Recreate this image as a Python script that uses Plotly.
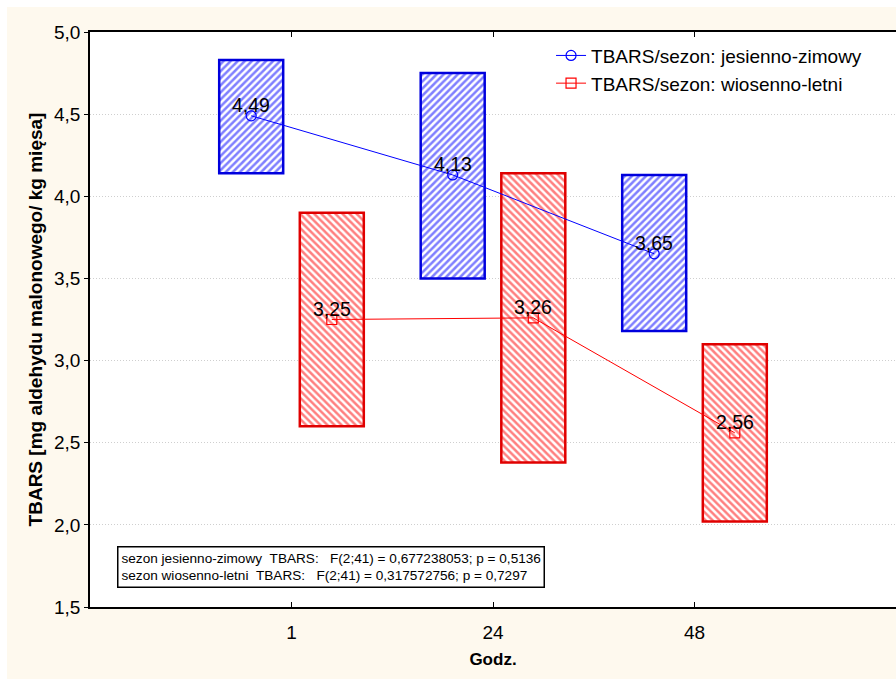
import plotly.graph_objects as go

categories = ["1", "24", "48"]
mean_jz = [4.49, 4.13, 3.65]
low_jz = [4.14, 3.50, 3.18]
high_jz = [4.83, 4.75, 4.13]
mean_wl = [3.25, 3.26, 2.56]
low_wl = [2.60, 2.38, 2.02]
high_wl = [3.90, 4.14, 3.10]
name_jz = "TBARS/sezon: jesienno-zimowy"
name_wl = "TBARS/sezon: wiosenno-letni"
stats_lines = [
    "sezon jesienno-zimowy  TBARS:   F(2;41) = 0,677238053; p = 0,5136",
    "sezon wiosenno-letni  TBARS:   F(2;41) = 0,317572756; p = 0,7297",
]
y_ticks = [1.5, 2.0, 2.5, 3.0, 3.5, 4.0, 4.5, 5.0]

BLUE = "#0000ff"
RED = "#ff0000"
OFF = 0.2
W = 0.3176
FONT = "Liberation Sans, Arial, sans-serif"

idx = list(range(len(categories)))
x_jz = [i - OFF for i in idx]
x_wl = [i + OFF for i in idx]

fig = go.Figure()
for xs, lo, hi, col, edge, shape in [
    (x_jz, low_jz, high_jz, "#0000ff", "#0000dd", "/"),
    (x_wl, low_wl, high_wl, "#ff0000", "#e00000", "\\"),
]:
    fig.add_trace(go.Bar(
        x=xs, base=lo, y=[h - l for h, l in zip(hi, lo)], width=W,
        marker=dict(color="white", line=dict(color=edge, width=2.5),
                    pattern=dict(shape=shape, fgcolor=col, bgcolor="white",
                                 size=5, solidity=0.5)),
        showlegend=False, hoverinfo="skip",
    ))

fig.add_trace(go.Scatter(
    x=x_jz, y=mean_jz, mode="lines+markers", name=name_jz,
    line=dict(color=BLUE, width=1),
    marker=dict(symbol="circle-open", size=10, color=BLUE, line=dict(width=1.2)),
))
fig.add_trace(go.Scatter(
    x=x_wl, y=mean_wl, mode="lines+markers", name=name_wl,
    line=dict(color=RED, width=1),
    marker=dict(symbol="square-open", size=10, color=RED, line=dict(width=1.2)),
))

annotations = []
for xs, ms in [(x_jz, mean_jz), (x_wl, mean_wl)]:
    for x, m in zip(xs, ms):
        annotations.append(dict(
            x=x, y=m, xref="x", yref="y", text=f"{m:.2f}".replace(".", ","),
            showarrow=False, yshift=11, font=dict(size=19.5, color="black", family=FONT),
        ))

annotations.append(dict(
    xref="paper", yref="paper", x=0.0335, y=0.1066, xanchor="left", yanchor="top",
    text="<br>".join(s.replace("  ", "\u00a0\u00a0") for s in stats_lines),
    showarrow=False, align="left", bordercolor="black", borderwidth=1.5,
    borderpad=3, bgcolor="white", font=dict(size=13.6, color="black", family=FONT),
))

fig.update_layout(
    width=896, height=679,
    margin=dict(l=90, r=0, t=32, b=72),
    paper_bgcolor="#fef9ee", plot_bgcolor="white",
    font=dict(family=FONT, color="black"),
    barmode="overlay",
    showlegend=True,
    legend=dict(x=0.572, y=0.992, xanchor="left", yanchor="top",
                bgcolor="rgba(0,0,0,0)", font=dict(size=19, color="black"),
                tracegroupgap=0, itemwidth=30),
    annotations=annotations,
    separators=",.",
    shapes=[
        dict(type="rect", xref="paper", yref="paper", x0=-0.12, x1=1.01,
             y0=1.0435, y1=1.06, fillcolor="white", line_width=0, layer="below"),
        dict(type="rect", xref="paper", yref="paper", x0=-0.12, x1=-0.1030,
             y0=-0.2, y1=1.06, fillcolor="white", line_width=0, layer="below"),
    ],
)
fig.update_xaxes(
    range=[-1, 3], tickmode="array", tickvals=idx, ticktext=categories,
    showgrid=False, zeroline=False, showline=True, linecolor="black", linewidth=1.5,
    mirror="ticks", ticks="inside", ticklen=5, tickwidth=1, tickcolor="black",
    tickfont=dict(size=19, color="black"), ticklabelstandoff=7,
    title=dict(text="<b>Godz.</b>", font=dict(size=17, color="black"), standoff=12),
)
fig.update_yaxes(
    range=[1.5, 5.0], tickmode="array", tickvals=y_ticks,
    ticktext=[f"{v:.1f}".replace(".", ",") for v in y_ticks],
    showgrid=True, gridcolor="#cfcfcf", griddash="1px,2px", gridwidth=1,
    zeroline=False, showline=True, linecolor="black", linewidth=1.5,
    ticks="outside", ticklen=4, tickwidth=1, tickcolor="black",
    tickfont=dict(size=19, color="black"),
    title=dict(text="<b>TBARS [mg aldehydu malonowego/ kg mięsa]</b>",
               font=dict(size=19, color="black"), standoff=6),
)

fig.write_html("out.html")
